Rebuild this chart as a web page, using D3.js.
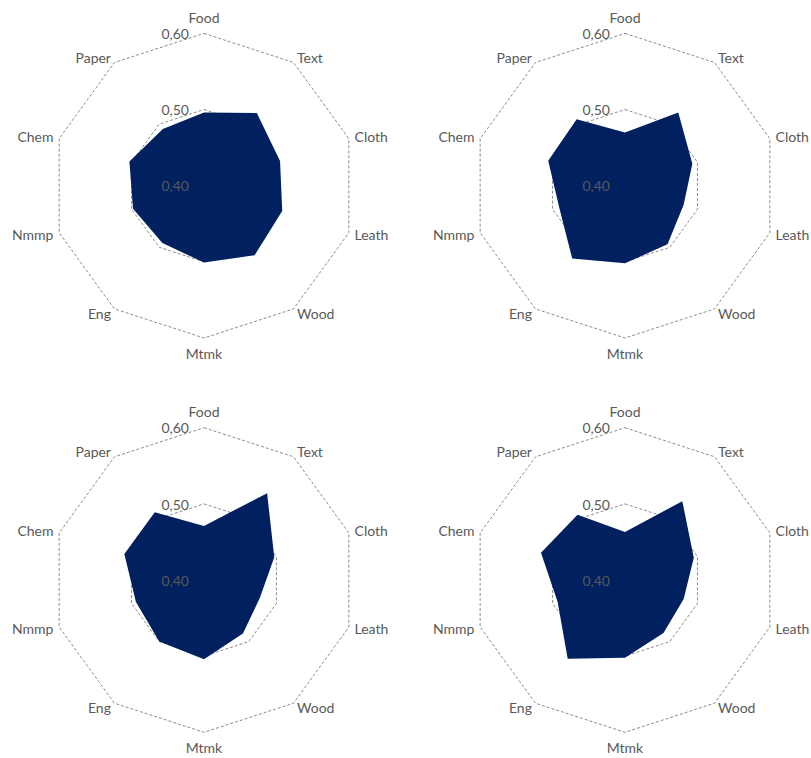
<!DOCTYPE html>
<html>
<head>
<meta charset="utf-8">
<script src="https://cdn.jsdelivr.net/npm/d3@7/dist/d3.min.js"></script>
<style>
  html, body { margin: 0; padding: 0; background: #ffffff; }
  svg { display: block; }
  text { font-family: Lato, "Open Sans", sans-serif; font-size: 14px; fill: #595959; }
</style>
</head>
<body>
<svg id="chart" width="811" height="758"></svg>
<script>
// Industry categories shown on each radar, clockwise from the top
const categories = ["Food", "Text", "Cloth", "Leath", "Wood", "Mtmk", "Eng", "Nmmp", "Chem", "Paper"];

// One value series per panel (top-left, top-right, bottom-left, bottom-right)
const seriesA = [0.496, 0.518, 0.505, 0.508, 0.513, 0.501, 0.493, 0.498, 0.503, 0.492];
const seriesB = [0.470, 0.519, 0.493, 0.481, 0.495, 0.502, 0.518, 0.491, 0.506, 0.508];
const seriesC = [0.471, 0.541, 0.497, 0.477, 0.487, 0.504, 0.500, 0.494, 0.510, 0.510];
const seriesD = [0.463, 0.528, 0.495, 0.481, 0.486, 0.502, 0.528, 0.493, 0.516, 0.506];

// Radial axis
const radialDomain = [0.40, 0.60];
const tickValues = [0.40, 0.50, 0.60];
const tickLabels = ["0,40", "0,50", "0,60"];

const panels = [
  { values: seriesA, cx: 204, cy: 185.7 },
  { values: seriesB, cx: 625, cy: 185.7 },
  { values: seriesC, cx: 204, cy: 580 },
  { values: seriesD, cx: 625, cy: 580 }
];

const R = 152.3;
const svg = d3.select("#chart");

const r = d3.scaleLinear().domain(radialDomain).range([0, R]);
const angle = d3.scaleLinear().domain([0, categories.length]).range([0, 2 * Math.PI]);

const radial = d3.lineRadial()
  .angle((d, i) => angle(i))
  .radius(d => r(d))
  .curve(d3.curveLinearClosed);

panels.forEach(p => {
  const g = svg.append("g").attr("transform", `translate(${p.cx},${p.cy})`);

  // Dashed polygon gridlines
  g.selectAll("path.grid")
    .data(tickValues.filter(t => r(t) > 0))
    .join("path")
    .attr("class", "grid")
    .attr("d", t => radial(categories.map(() => t)))
    .attr("fill", "none")
    .attr("stroke", "#7f7f7f")
    .attr("stroke-width", 0.9)
    .attr("stroke-dasharray", "3,2");

  // Filled series area
  g.append("path")
    .attr("d", radial(p.values))
    .attr("fill", "#002060")
    .attr("stroke", "none");

  // Category labels around the outer ring
  const gap = 6;
  g.selectAll("text.cat")
    .data(categories)
    .join("text")
    .attr("class", "cat")
    .each(function(d, i) {
      const a = angle(i);
      const s = Math.sin(a), c = Math.cos(a);
      const vx = R * s, vy = -R * c;
      let x = vx + s * gap, y = vy - c * gap;
      let anchor = "middle";
      if (s > 0.1) anchor = "start";
      else if (s < -0.1) anchor = "end";
      else y += c > 0 ? -9.8 : 9.8;
      d3.select(this)
        .attr("x", x)
        .attr("y", y)
        .attr("text-anchor", anchor)
        .attr("dy", "0.35em")
        .text(d);
    });

  // Radial tick labels, left of the top spoke
  g.selectAll("text.tick")
    .data(tickValues)
    .join("text")
    .attr("class", "tick")
    .attr("x", -15)
    .attr("y", (t) => -r(t) + 0.8)
    .attr("dy", "0.35em")
    .attr("text-anchor", "end")
    .text((t, i) => tickLabels[i]);
});
</script>
</body>
</html>
